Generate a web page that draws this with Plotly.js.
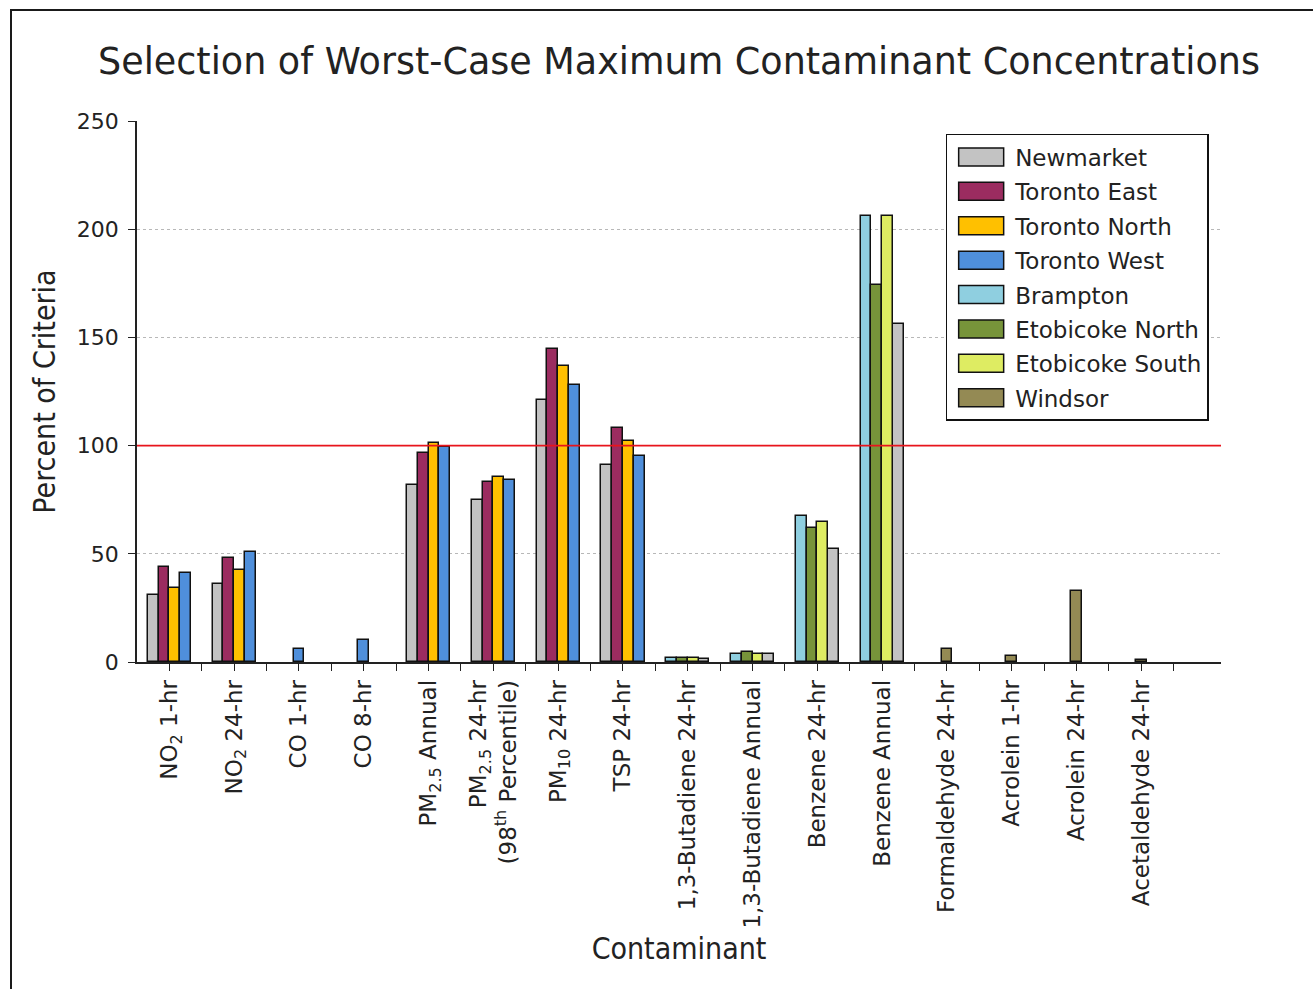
<!DOCTYPE html>
<html>
<head>
<meta charset="utf-8">
<script src="https://cdn.plot.ly/plotly-3.0.1.min.js"></script>
<style>
  html, body { margin: 0; padding: 0; overflow: hidden; background: #fff; }
  #chart { width: 1313px; height: 989px; }
  #frame { position: absolute; left: 10px; top: 9px; width: 1400px; height: 1100px;
           border: 2px solid #1a1a1a; pointer-events: none; }
</style>
</head>
<body>
<div id="chart"></div>
<div id="frame"></div>
<script>
// ---- data ----
const categories = [
  'NO<sub>2</sub> 1-hr',
  'NO<sub>2</sub> 24-hr',
  'CO 1-hr',
  'CO 8-hr',
  'PM<sub>2.5</sub> Annual',
  'PM<sub>2.5</sub> 24-hr<br>(98<sup>th</sup> Percentile)',
  'PM<sub>10</sub> 24-hr',
  'TSP 24-hr',
  '1,3-Butadiene 24-hr',
  '1,3-Butadiene Annual',
  'Benzene 24-hr',
  'Benzene Annual',
  'Formaldehyde 24-hr',
  'Acrolein 1-hr',
  'Acrolein 24-hr',
  'Acetaldehyde 24-hr'
];

const stations = ['Newmarket', 'Toronto East', 'Toronto North', 'Toronto West',
                  'Brampton', 'Etobicoke North', 'Etobicoke South', 'Windsor'];

const newmarket      = [31, 36, null, null, 82, 75, 121, 91, 1.5, 3.5, 52, 156, null, null, null, null];
const torontoEast    = [44, 48, null, null, 96.5, 83, 144.5, 108, null, null, null, null, null, null, null, null];
const torontoNorth   = [34, 42.5, null, null, 101, 85.5, 137, 102, null, null, null, null, null, null, null, null];
const torontoWest    = [41, 51, 6, 10, 99.5, 84, 128, 95, null, null, null, null, null, null, null, null];
const brampton       = [null, null, null, null, null, null, null, null, 2, 3.5, 67.5, 206, null, null, null, null];
const etobicokeNorth = [null, null, null, null, null, null, null, null, 2, 4.5, 62, 174, null, null, null, null];
const etobicokeSouth = [null, null, null, null, null, null, null, null, 2, 3.5, 64.5, 206, null, null, null, null];
const windsor        = [null, null, null, null, null, null, null, null, null, null, null, null, 6, 3, 33, 1];

const criterion = 100;

// order of stations inside a group of bars
const torontoGroup   = ['Newmarket', 'Toronto East', 'Toronto North', 'Toronto West'];
const etobicokeGroup = ['Brampton', 'Etobicoke North', 'Etobicoke South', 'Newmarket'];
const windsorGroup   = ['Windsor'];
const categoryGroup  = ['T','T','T','T','T','T','T','T','E','E','E','E','W','W','W','W'];

// ---- styles ----
const colors = {
  'Newmarket': '#c3c3c3',
  'Toronto East': '#9b2c60',
  'Toronto North': '#ffc000',
  'Toronto West': '#4f8fdb',
  'Brampton': '#8fcfe0',
  'Etobicoke North': '#77943a',
  'Etobicoke South': '#deec62',
  'Windsor': '#948a54'
};

const seriesValues = {
  'Newmarket': newmarket, 'Toronto East': torontoEast, 'Toronto North': torontoNorth,
  'Toronto West': torontoWest, 'Brampton': brampton, 'Etobicoke North': etobicokeNorth,
  'Etobicoke South': etobicokeSouth, 'Windsor': windsor
};
const groups = { T: torontoGroup, E: etobicokeGroup, W: windsorGroup };
const barW = 1 / 6;

const xIdx = categories.map((_, i) => i);

const traces = stations.map((name, si) => {
  const vals = seriesValues[name];
  const offsets = xIdx.map(i => {
    const present = groups[categoryGroup[i]].filter(s => seriesValues[s][i] !== null);
    const k = present.indexOf(name);
    if (k < 0) return 0;
    return -present.length * barW / 2 + k * barW;
  });
  return {
    type: 'bar',
    name: name,
    x: xIdx,
    y: vals,
    width: barW,
    offset: offsets,
    legendgroup: 'g' + si,
    marker: { color: colors[name], line: { color: '#111', width: 1.5 } },
    hoverinfo: 'x+y+name'
  };
});

const tickvals = [], ticktext = [];
xIdx.forEach(i => { tickvals.push(i); ticktext.push(categories[i]); tickvals.push(i + 0.5); ticktext.push(''); });

const condensed = 'DejaVu Sans Condensed, Liberation Sans Narrow, DejaVu Sans, sans-serif';

const layout = {
  width: 1313, height: 989,
  paper_bgcolor: '#fff', plot_bgcolor: '#fff',
  font: { family: 'DejaVu Sans, sans-serif', color: '#222', size: 22 },
  margin: { l: 137, r: 92, t: 121, b: 327, autoexpand: false },
  barmode: 'overlay',
  title: {
    text: 'Selection of Worst-Case Maximum Contaminant Concentrations',
    font: { size: 36.5, family: 'DejaVu Sans, sans-serif', color: '#222' },
    x: 0.5, xref: 'paper', xanchor: 'center',
    y: 1 - 61 / 989, yref: 'container', yanchor: 'middle'
  },
  xaxis: {
    type: 'linear',
    range: [-0.5, 16.23],
    tickmode: 'array', tickvals: tickvals, ticktext: ticktext,
    tickangle: -90,
    ticks: 'outside', ticklen: 7, tickwidth: 1.2, tickcolor: '#222',
    showline: true, linecolor: '#222', linewidth: 1.5,
    showgrid: false, zeroline: false,
    tickfont: { size: 23 },
    title: { text: 'Contaminant', standoff: 10, font: { size: 30, family: condensed } },
    automargin: false, fixedrange: true
  },
  yaxis: {
    range: [0, 250],
    tickvals: [0, 50, 100, 150, 200, 250],
    ticks: 'outside', ticklen: 7, tickwidth: 1.2, tickcolor: '#222',
    ticklabelstandoff: 5,
    showline: true, linecolor: '#222', linewidth: 1.5,
    showgrid: true, gridcolor: '#b8b8b8', griddash: 'dot', gridwidth: 1.3,
    zeroline: false,
    tickfont: { size: 22 },
    title: { text: 'Percent of Criteria', standoff: 12, font: { size: 30, family: condensed } },
    automargin: false, fixedrange: true
  },
  shapes: [{
    type: 'line', xref: 'paper', x0: 0, x1: 1, yref: 'y', y0: criterion, y1: criterion,
    line: { color: '#e8141c', width: 1.8 }, layer: 'above'
  }],
  showlegend: true,
  legend: {
    x: 0.746, y: 0.976, xanchor: 'left', yanchor: 'top',
    bgcolor: '#fff', bordercolor: '#111', borderwidth: 1.5,
    font: { size: 23, color: '#222' },
    traceorder: 'grouped', tracegroupgap: 1.5, itemwidth: 58,
    itemclick: false, itemdoubleclick: false
  },
  bargap: 0
};

Plotly.newPlot('chart', traces, layout, { displayModeBar: false }).then(() => {
  document.querySelectorAll('#chart .legend .legendpoints path').forEach(p => {
    p.setAttribute('d', 'M22.5,9H-22.5V-9H22.5Z');
  });
});
</script>
</body>
</html>
